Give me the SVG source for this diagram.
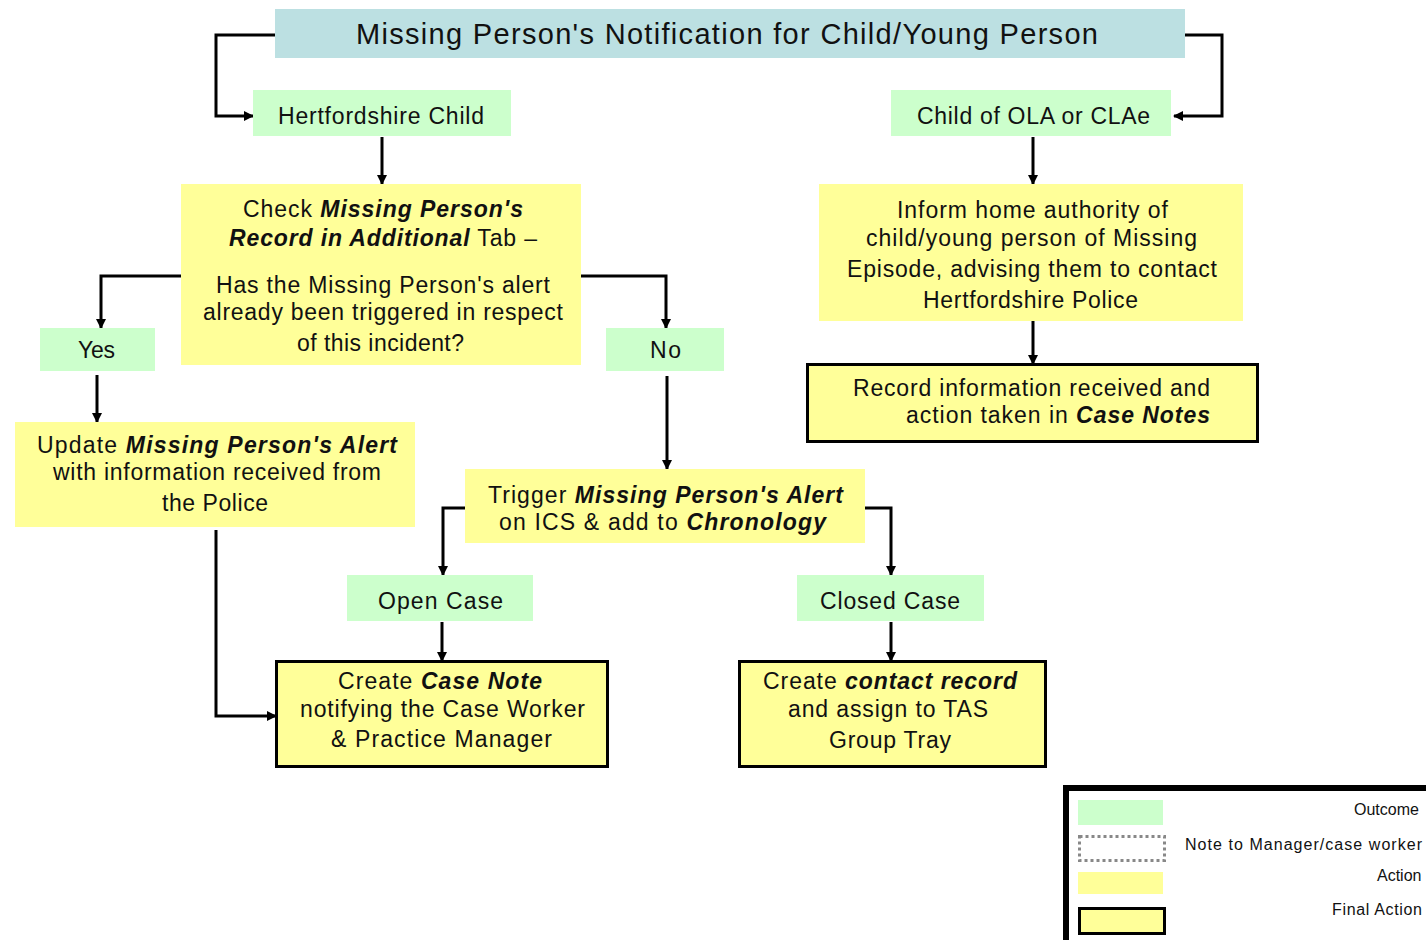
<svg xmlns="http://www.w3.org/2000/svg" width="1426" height="940" viewBox="0 0 1426 940">
  <style>
    text { font-family: "Liberation Sans", Arial, sans-serif; font-size: 23px; fill: #111; }
    .title { font-size: 29px; }
    .em { font-style: italic; font-weight: bold; }
    .legend text { font-size: 16px; }
    .outcome { fill: #CCFFCC; }
    .action { fill: #FFFF99; }
    .final { fill: #FFFF99; stroke: #000; stroke-width: 3; }
    .conn path { fill: none; stroke: #000; stroke-width: 3; marker-end: url(#arrow); }
  </style>
  <defs>
    <marker id="arrow" markerUnits="userSpaceOnUse" markerWidth="10" markerHeight="10" refX="9" refY="5" orient="auto">
      <path d="M0,0 L10,5 L0,10 z" fill="#000"/>
    </marker>
  </defs>
  <rect width="1426" height="940" fill="#fff"/>

  <!-- connectors -->
  <g id="connectors" class="conn">
    <path d="M278,35 H216 V116 H253"/>
    <path d="M1185,35 H1222 V116 H1174"/>
    <path d="M382,137 V184"/>
    <path d="M1033,137 V184"/>
    <path d="M181,276 H101 V328"/>
    <path d="M581,276 H666 V328"/>
    <path d="M97,375 V422"/>
    <path d="M667,376 V469"/>
    <path d="M1033,321 V364"/>
    <path d="M465,508 H443 V575"/>
    <path d="M865,508 H891 V575"/>
    <path d="M442,622 V661"/>
    <path d="M891,622 V661"/>
    <path d="M216,530 V716 H276"/>
  </g>

  <g id="title">
    <rect x="275" y="9" width="910" height="49" fill="#BCE0E2"/>
    <text class="title" x="356" y="44" textLength="742" lengthAdjust="spacing">Missing Person's Notification for Child/Young Person</text>
  </g>

  <g id="herts-child">
    <rect class="outcome" x="253" y="90" width="258" height="46"/>
    <text x="278" y="124" textLength="206" lengthAdjust="spacing">Hertfordshire  Child</text>
  </g>

  <g id="ola-child">
    <rect class="outcome" x="891" y="90" width="280" height="46"/>
    <text x="917" y="124" textLength="233" lengthAdjust="spacing">Child of OLA or CLAe</text>
  </g>

  <g id="check-record">
    <rect class="action" x="181" y="184" width="400" height="181"/>
    <text x="243" y="217" textLength="280" lengthAdjust="spacing">Check <tspan class="em">Missing Person's</tspan></text>
    <text x="229" y="246" textLength="308" lengthAdjust="spacing"><tspan class="em">Record in Additional</tspan> Tab –</text>
    <text x="216" y="293" textLength="334" lengthAdjust="spacing">Has the Missing Person's alert</text>
    <text x="203" y="320" textLength="360" lengthAdjust="spacing">already been triggered in respect</text>
    <text x="297" y="351" textLength="167" lengthAdjust="spacing">of this incident?</text>
  </g>

  <g id="inform-home">
    <rect class="action" x="819" y="184" width="424" height="137"/>
    <text x="897" y="218" textLength="271" lengthAdjust="spacing">Inform home authority of</text>
    <text x="866" y="246" textLength="331" lengthAdjust="spacing">child/young person of Missing</text>
    <text x="847" y="277" textLength="370" lengthAdjust="spacing">Episode, advising them to contact</text>
    <text x="923" y="308" textLength="215" lengthAdjust="spacing">Hertfordshire Police</text>
  </g>

  <g id="record-info">
    <rect class="final" x="807.5" y="364.5" width="450" height="77"/>
    <text x="853" y="396" textLength="357" lengthAdjust="spacing">Record information received and</text>
    <text x="906" y="423" textLength="304" lengthAdjust="spacing">action taken in <tspan class="em">Case Notes</tspan></text>
  </g>

  <g id="yes">
    <rect class="outcome" x="40" y="328" width="115" height="43"/>
    <text x="78" y="358" textLength="37" lengthAdjust="spacing">Yes</text>
  </g>

  <g id="no">
    <rect class="outcome" x="606" y="328" width="118" height="43"/>
    <text x="650" y="358" textLength="31" lengthAdjust="spacing">No</text>
  </g>

  <g id="update-alert">
    <rect class="action" x="15" y="422" width="400" height="105"/>
    <text x="37" y="453" textLength="360" lengthAdjust="spacing">Update <tspan class="em">Missing Person's Alert</tspan></text>
    <text x="53" y="480" textLength="328" lengthAdjust="spacing">with information received from</text>
    <text x="162" y="511" textLength="106" lengthAdjust="spacing">the Police</text>
  </g>

  <g id="trigger-alert">
    <rect class="action" x="465" y="469" width="400" height="74"/>
    <text x="488" y="503" textLength="355" lengthAdjust="spacing">Trigger <tspan class="em">Missing Person's Alert</tspan></text>
    <text x="499" y="530" textLength="327" lengthAdjust="spacing">on ICS &amp; add to <tspan class="em">Chronology</tspan></text>
  </g>

  <g id="open-case">
    <rect class="outcome" x="347" y="575" width="186" height="46"/>
    <text x="378" y="609" textLength="125" lengthAdjust="spacing">Open Case</text>
  </g>

  <g id="closed-case">
    <rect class="outcome" x="797" y="575" width="187" height="46"/>
    <text x="820" y="609" textLength="140" lengthAdjust="spacing">Closed Case</text>
  </g>

  <g id="create-case-note">
    <rect class="final" x="276.5" y="661.5" width="331" height="105"/>
    <text x="338" y="689" textLength="204" lengthAdjust="spacing">Create <tspan class="em">Case Note</tspan></text>
    <text x="300" y="717" textLength="285" lengthAdjust="spacing">notifying the Case Worker</text>
    <text x="331" y="747" textLength="221" lengthAdjust="spacing">&amp; Practice Manager</text>
  </g>

  <g id="create-contact">
    <rect class="final" x="739.5" y="661.5" width="306" height="105"/>
    <text x="763" y="689" textLength="254" lengthAdjust="spacing">Create <tspan class="em">contact record</tspan></text>
    <text x="788" y="717" textLength="200" lengthAdjust="spacing">and assign to TAS</text>
    <text x="829" y="748" textLength="122" lengthAdjust="spacing">Group Tray</text>
  </g>

  <!-- key -->
  <g id="legend" class="legend">
    <rect x="1066" y="788" width="400" height="200" fill="#fff" stroke="#000" stroke-width="6"/>
    <rect class="outcome" x="1078" y="800" width="85" height="25"/>
    <rect x="1079.5" y="836.5" width="85" height="24" fill="#fff" stroke="#888" stroke-width="3" stroke-dasharray="3,3"/>
    <rect class="action" x="1078" y="872" width="85" height="22"/>
    <rect class="final" x="1079.5" y="908.5" width="85" height="25"/>
    <text x="1354" y="815">Outcome</text>
    <text x="1185" y="850" textLength="237" lengthAdjust="spacing">Note to Manager/case worker</text>
    <text x="1377" y="881">Action</text>
    <text x="1332" y="915" textLength="90" lengthAdjust="spacing">Final Action</text>
  </g>
</svg>
